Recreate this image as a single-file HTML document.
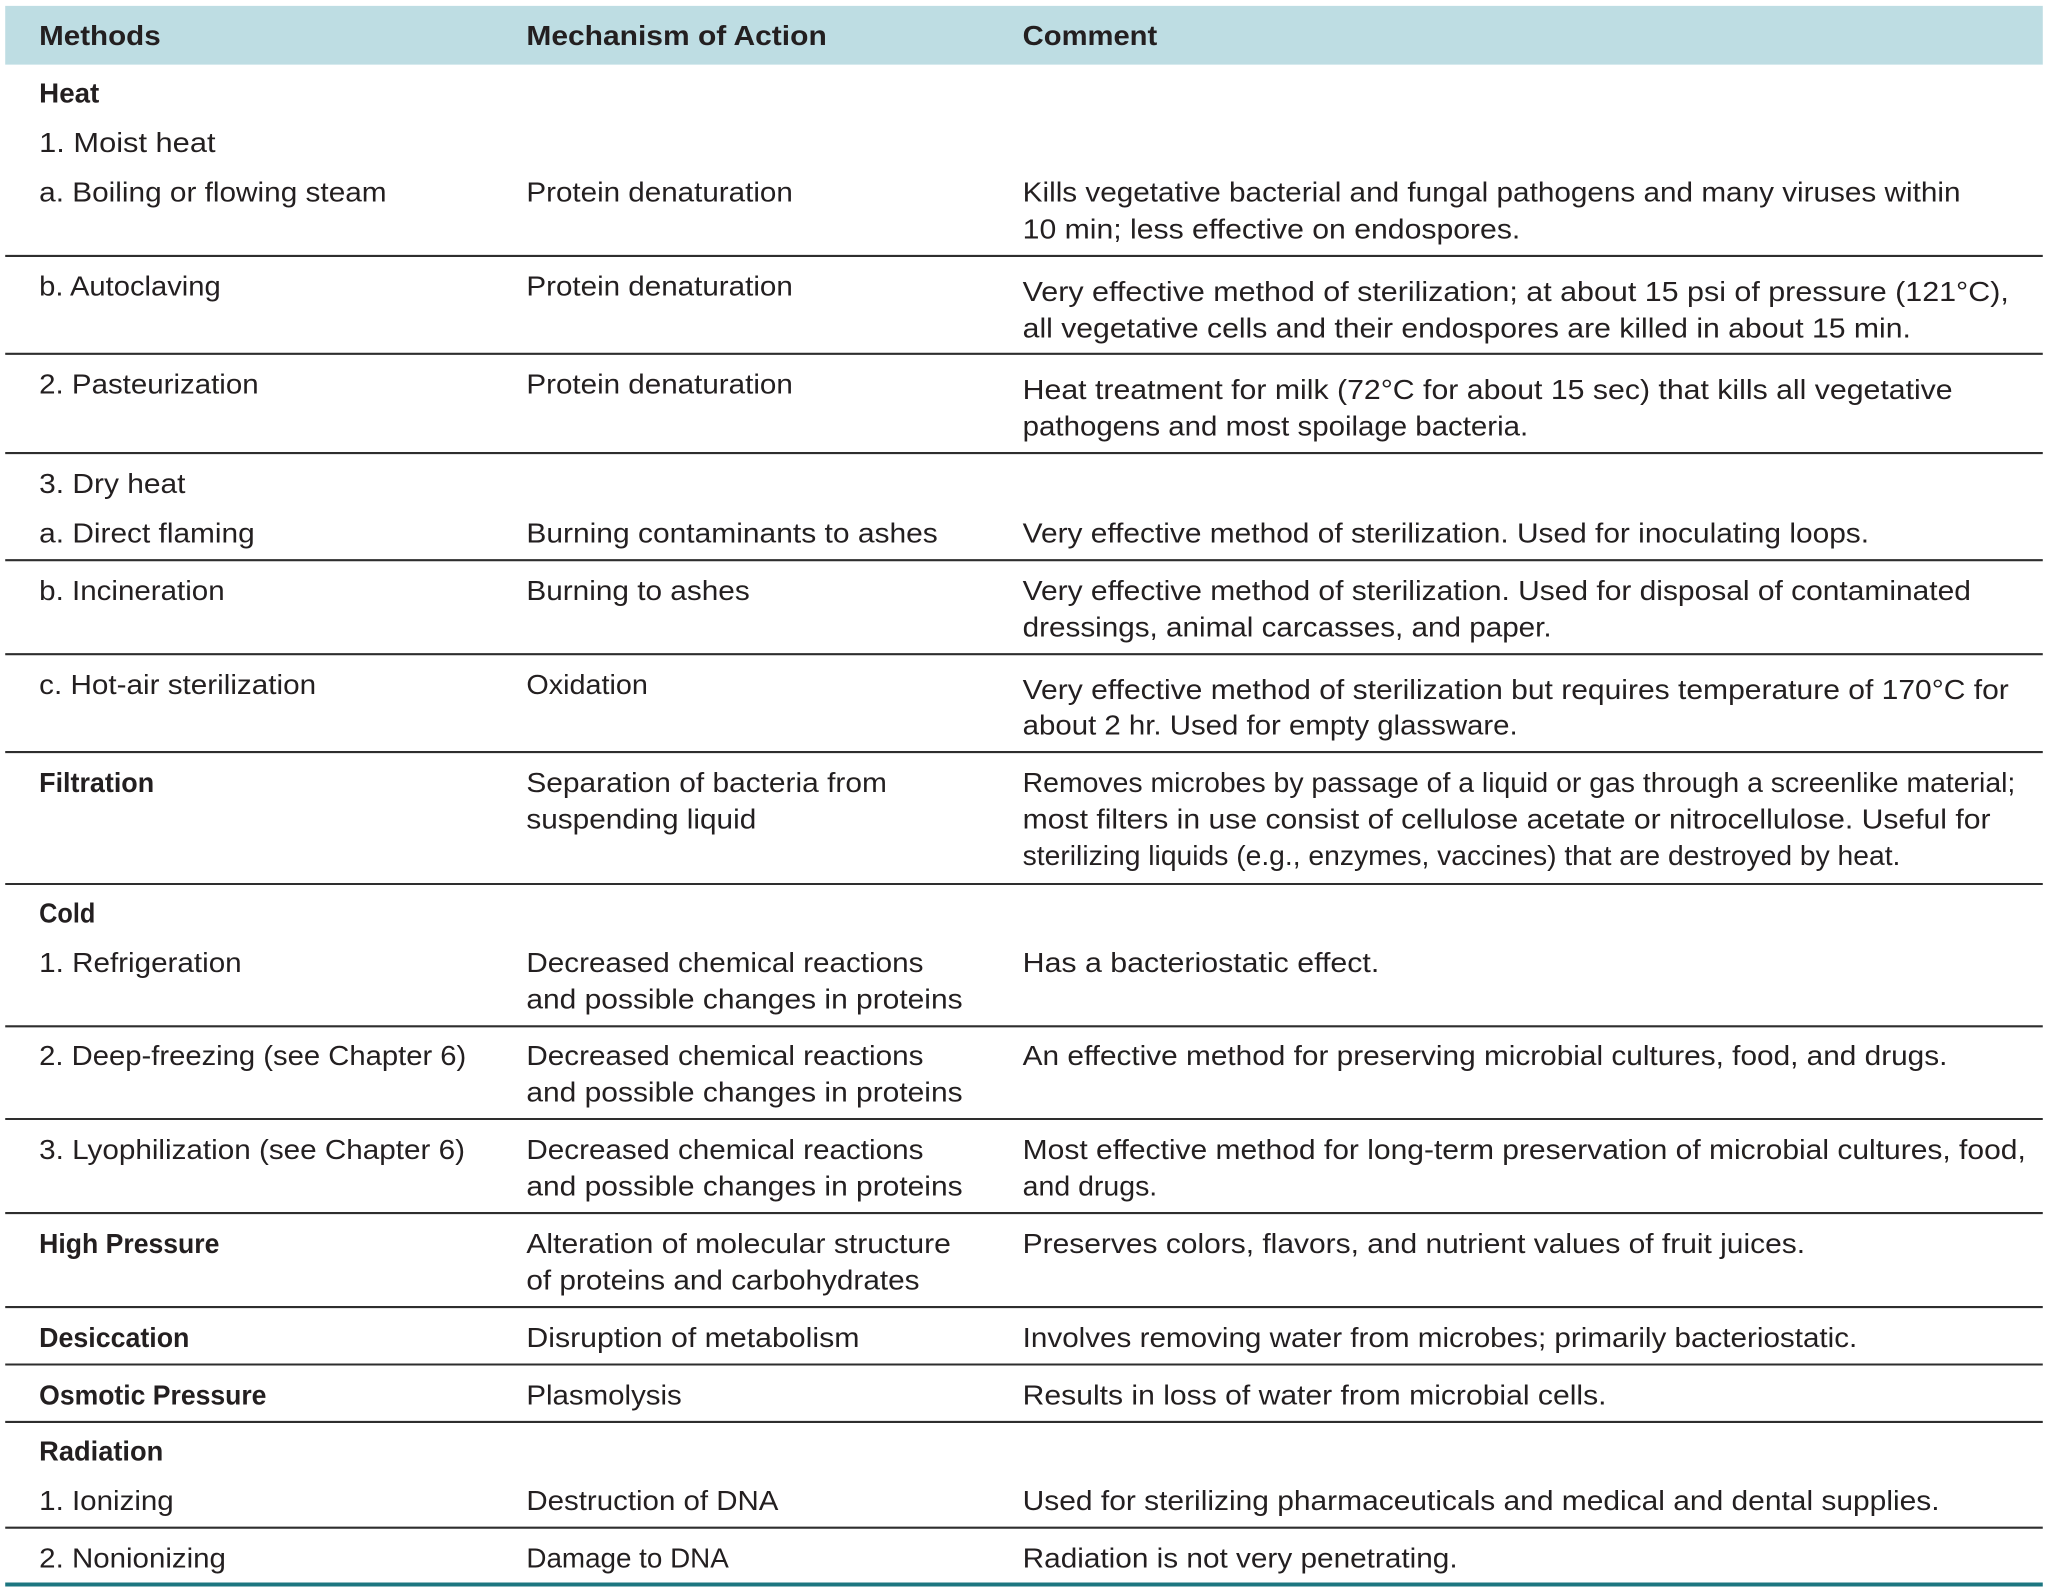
<!DOCTYPE html>
<html><head><meta charset="utf-8"><style>
html,body{margin:0;padding:0;background:#fff;}
svg{display:block;}
text{font-family:"Liberation Sans",sans-serif;font-size:21px;fill:#231f20;}
.b{font-weight:bold;}
</style></head><body>
<svg width="2048" height="1593" viewBox="0 0 1568 1220" preserveAspectRatio="none" xmlns="http://www.w3.org/2000/svg">
<rect x="0" y="0" width="1568" height="1220" fill="#fff"/>
<rect x="4" y="4.5" width="1560" height="45" fill="#bedde3"/>
<g stroke="#2e2e2e" stroke-width="1.6">
<line x1="4" x2="1564" y1="196" y2="196"/>
<line x1="4" x2="1564" y1="271" y2="271"/>
<line x1="4" x2="1564" y1="347" y2="347"/>
<line x1="4" x2="1564" y1="429" y2="429"/>
<line x1="4" x2="1564" y1="501" y2="501"/>
<line x1="4" x2="1564" y1="576" y2="576"/>
<line x1="4" x2="1564" y1="677" y2="677"/>
<line x1="4" x2="1564" y1="786" y2="786"/>
<line x1="4" x2="1564" y1="857" y2="857"/>
<line x1="4" x2="1564" y1="929" y2="929"/>
<line x1="4" x2="1564" y1="1001" y2="1001"/>
<line x1="4" x2="1564" y1="1045" y2="1045"/>
<line x1="4" x2="1564" y1="1089" y2="1089"/>
<line x1="4" x2="1564" y1="1170" y2="1170"/>
</g>
<line x1="4" x2="1564" y1="1213.5" y2="1213.5" stroke="#1c7680" stroke-width="3"/>

<text class="b" x="30" y="34.5" textLength="93" lengthAdjust="spacingAndGlyphs">Methods</text>
<text class="b" x="403" y="34.5" textLength="230" lengthAdjust="spacingAndGlyphs">Mechanism of Action</text>
<text class="b" x="783" y="34.5" textLength="103" lengthAdjust="spacingAndGlyphs">Comment</text>

<text class="b" x="30" y="78.5" textLength="46" lengthAdjust="spacingAndGlyphs">Heat</text>
<text x="30" y="116.5" textLength="135" lengthAdjust="spacingAndGlyphs">1. Moist heat</text>
<text x="30" y="154.5" textLength="266" lengthAdjust="spacingAndGlyphs">a. Boiling or flowing steam</text>
<text x="403" y="154.5" textLength="204" lengthAdjust="spacingAndGlyphs">Protein denaturation</text>
<text x="783" y="154.5" textLength="718" lengthAdjust="spacingAndGlyphs">Kills vegetative bacterial and fungal pathogens and many viruses within</text>
<text x="783" y="182.5" textLength="381" lengthAdjust="spacingAndGlyphs">10 min; less effective on endospores.</text>

<text x="30" y="226.5" textLength="139" lengthAdjust="spacingAndGlyphs">b. Autoclaving</text>
<text x="403" y="226.5" textLength="204" lengthAdjust="spacingAndGlyphs">Protein denaturation</text>
<text x="783" y="230.5" textLength="755" lengthAdjust="spacingAndGlyphs">Very effective method of sterilization; at about 15 psi of pressure (121°C),</text>
<text x="783" y="258.5" textLength="680" lengthAdjust="spacingAndGlyphs">all vegetative cells and their endospores are killed in about 15 min.</text>

<text x="30" y="301.5" textLength="168" lengthAdjust="spacingAndGlyphs">2. Pasteurization</text>
<text x="403" y="301.5" textLength="204" lengthAdjust="spacingAndGlyphs">Protein denaturation</text>
<text x="783" y="305.5" textLength="712" lengthAdjust="spacingAndGlyphs">Heat treatment for milk (72°C for about 15 sec) that kills all vegetative</text>
<text x="783" y="333.5" textLength="387" lengthAdjust="spacingAndGlyphs">pathogens and most spoilage bacteria.</text>

<text x="30" y="377.5" textLength="112" lengthAdjust="spacingAndGlyphs">3. Dry heat</text>
<text x="30" y="415.5" textLength="165" lengthAdjust="spacingAndGlyphs">a. Direct flaming</text>
<text x="403" y="415.5" textLength="315" lengthAdjust="spacingAndGlyphs">Burning contaminants to ashes</text>
<text x="783" y="415.5" textLength="648" lengthAdjust="spacingAndGlyphs">Very effective method of sterilization. Used for inoculating loops.</text>

<text x="30" y="459.5" textLength="142" lengthAdjust="spacingAndGlyphs">b. Incineration</text>
<text x="403" y="459.5" textLength="171" lengthAdjust="spacingAndGlyphs">Burning to ashes</text>
<text x="783" y="459.5" textLength="726" lengthAdjust="spacingAndGlyphs">Very effective method of sterilization. Used for disposal of contaminated</text>
<text x="783" y="487.5" textLength="405" lengthAdjust="spacingAndGlyphs">dressings, animal carcasses, and paper.</text>

<text x="30" y="531.5" textLength="212" lengthAdjust="spacingAndGlyphs">c. Hot-air sterilization</text>
<text x="403" y="531.5" textLength="93" lengthAdjust="spacingAndGlyphs">Oxidation</text>
<text x="783" y="535.5" textLength="755" lengthAdjust="spacingAndGlyphs">Very effective method of sterilization but requires temperature of 170°C for</text>
<text x="783" y="562.5" textLength="379" lengthAdjust="spacingAndGlyphs">about 2 hr. Used for empty glassware.</text>

<text class="b" x="30" y="606.5" textLength="88" lengthAdjust="spacingAndGlyphs">Filtration</text>
<text x="403" y="606.5" textLength="276" lengthAdjust="spacingAndGlyphs">Separation of bacteria from</text>
<text x="403" y="634.5" textLength="176" lengthAdjust="spacingAndGlyphs">suspending liquid</text>
<text x="783" y="606.5" textLength="760" lengthAdjust="spacingAndGlyphs">Removes microbes by passage of a liquid or gas through a screenlike material;</text>
<text x="783" y="634.5" textLength="741" lengthAdjust="spacingAndGlyphs">most filters in use consist of cellulose acetate or nitrocellulose. Useful for</text>
<text x="783" y="662.5" textLength="672" lengthAdjust="spacingAndGlyphs">sterilizing liquids (e.g., enzymes, vaccines) that are destroyed by heat.</text>

<text class="b" x="30" y="706.5" textLength="43" lengthAdjust="spacingAndGlyphs">Cold</text>
<text x="30" y="744.5" textLength="155" lengthAdjust="spacingAndGlyphs">1. Refrigeration</text>
<text x="403" y="744.5" textLength="304" lengthAdjust="spacingAndGlyphs">Decreased chemical reactions</text>
<text x="403" y="772.5" textLength="334" lengthAdjust="spacingAndGlyphs">and possible changes in proteins</text>
<text x="783" y="744.5" textLength="273" lengthAdjust="spacingAndGlyphs">Has a bacteriostatic effect.</text>

<text x="30" y="815.5" textLength="327" lengthAdjust="spacingAndGlyphs">2. Deep-freezing (see Chapter 6)</text>
<text x="403" y="815.5" textLength="304" lengthAdjust="spacingAndGlyphs">Decreased chemical reactions</text>
<text x="403" y="843.5" textLength="334" lengthAdjust="spacingAndGlyphs">and possible changes in proteins</text>
<text x="783" y="815.5" textLength="708" lengthAdjust="spacingAndGlyphs">An effective method for preserving microbial cultures, food, and drugs.</text>

<text x="30" y="887.5" textLength="326" lengthAdjust="spacingAndGlyphs">3. Lyophilization (see Chapter 6)</text>
<text x="403" y="887.5" textLength="304" lengthAdjust="spacingAndGlyphs">Decreased chemical reactions</text>
<text x="403" y="915.5" textLength="334" lengthAdjust="spacingAndGlyphs">and possible changes in proteins</text>
<text x="783" y="887.5" textLength="768" lengthAdjust="spacingAndGlyphs">Most effective method for long-term preservation of microbial cultures, food,</text>
<text x="783" y="915.5" textLength="103" lengthAdjust="spacingAndGlyphs">and drugs.</text>

<text class="b" x="30" y="959.5" textLength="138" lengthAdjust="spacingAndGlyphs">High Pressure</text>
<text x="403" y="959.5" textLength="325" lengthAdjust="spacingAndGlyphs">Alteration of molecular structure</text>
<text x="403" y="987.5" textLength="301" lengthAdjust="spacingAndGlyphs">of proteins and carbohydrates</text>
<text x="783" y="959.5" textLength="599" lengthAdjust="spacingAndGlyphs">Preserves colors, flavors, and nutrient values of fruit juices.</text>

<text class="b" x="30" y="1031.5" textLength="115" lengthAdjust="spacingAndGlyphs">Desiccation</text>
<text x="403" y="1031.5" textLength="255" lengthAdjust="spacingAndGlyphs">Disruption of metabolism</text>
<text x="783" y="1031.5" textLength="639" lengthAdjust="spacingAndGlyphs">Involves removing water from microbes; primarily bacteriostatic.</text>

<text class="b" x="30" y="1075.5" textLength="174" lengthAdjust="spacingAndGlyphs">Osmotic Pressure</text>
<text x="403" y="1075.5" textLength="119" lengthAdjust="spacingAndGlyphs">Plasmolysis</text>
<text x="783" y="1075.5" textLength="447" lengthAdjust="spacingAndGlyphs">Results in loss of water from microbial cells.</text>

<text class="b" x="30" y="1118.5" textLength="95" lengthAdjust="spacingAndGlyphs">Radiation</text>
<text x="30" y="1156.5" textLength="103" lengthAdjust="spacingAndGlyphs">1. Ionizing</text>
<text x="403" y="1156.5" textLength="193" lengthAdjust="spacingAndGlyphs">Destruction of DNA</text>
<text x="783" y="1156.5" textLength="702" lengthAdjust="spacingAndGlyphs">Used for sterilizing pharmaceuticals and medical and dental supplies.</text>

<text x="30" y="1200.5" textLength="143" lengthAdjust="spacingAndGlyphs">2. Nonionizing</text>
<text x="403" y="1200.5" textLength="155" lengthAdjust="spacingAndGlyphs">Damage to DNA</text>
<text x="783" y="1200.5" textLength="333" lengthAdjust="spacingAndGlyphs">Radiation is not very penetrating.</text>
</svg>
</body></html>
